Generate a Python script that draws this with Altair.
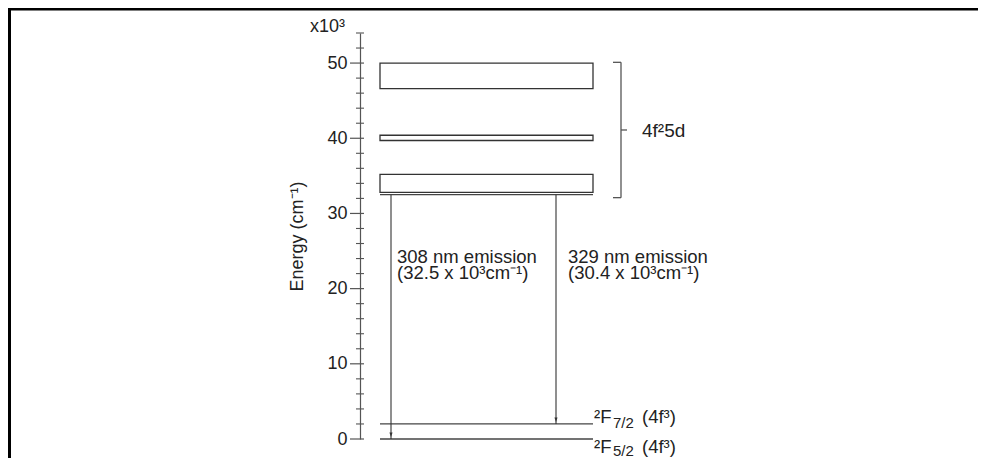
import altair as alt
import pandas as pd

# ---- data (energies in 10^3 cm^-1) ----
band_lo = [46.6, 39.7, 32.8]
band_hi = [50.0, 40.4, 35.2]
level_names = ["5d edge", "2F7/2", "2F5/2"]
level_energy = [32.5, 2.0, 0.0]
arrow_start = [32.5, 32.5]
arrow_end = [0.0, 2.0]
emission_text = ["308 nm emission\n(32.5 x 10³cm⁻¹)", "329 nm emission\n(30.4 x 10³cm⁻¹)"]
major_ticks = [0, 10, 20, 30, 40, 50]
minor_ticks = [2, 4, 6, 8, 12, 14, 16, 18, 22, 24, 26, 28, 32, 34, 36, 38,
               42, 44, 46, 48, 52, 54]
bracket_lo, bracket_hi, bracket_mid = 32.1, 50.1, 41.1

# ---- layout (plot units = pixels from the axis) ----
W, H = 618, 406
FONT = "Liberation Sans"
INK = "#222222"
LINE = "#333333"

xs = alt.Scale(domain=[0, W], nice=False, zero=False)
ys = alt.Scale(domain=[0, 54], nice=False, zero=False)
yaxis = alt.Axis(values=major_ticks, ticks=False, grid=False, domainColor="#555555",
                 domainWidth=1.2, labelFont=FONT, labelFontSize=18, labelColor=INK,
                 labelPadding=13, title="Energy (cm⁻¹)", titleFont=FONT,
                 titleFontSize=18, titleFontWeight="normal", titleColor=INK,
                 titlePadding=20)


def X(f):
    return alt.X(f, type="quantitative", scale=xs, axis=None)


def Y(f):
    return alt.Y(f, type="quantitative", scale=ys, axis=yaxis)


def txt(df, size, **kw):
    return alt.Chart(df).mark_text(
        align="left", baseline="alphabetic", font=FONT, fontSize=size, color=INK, **kw
    ).encode(x=X("x"), y=Y("e"), text="t:N")


bands = pd.DataFrame({"x": [20] * 3, "x2": [233] * 3, "e": band_lo, "e2": band_hi})
levels = pd.DataFrame({"x": [20] * 3, "x2": [233] * 3, "e": level_energy, "name": level_names})
arrows = pd.DataFrame({"x": [31, 196], "e": arrow_start, "e2": arrow_end})
heads = pd.DataFrame({"x": [31, 196], "e": arrow_end})
emis = pd.DataFrame({"x": [37, 208], "e": [23.43, 23.43], "t": emission_text})
majors = pd.DataFrame({"e": major_ticks})
minors = pd.DataFrame({"e": minor_ticks})

band_layer = alt.Chart(bands).mark_rect(fill="white", stroke=LINE, strokeWidth=1.3).encode(
    x=X("x"), x2="x2", y=Y("e"), y2="e2")
level_layer = alt.Chart(levels).mark_rule(color="#444444", strokeWidth=1.3).encode(
    x=X("x"), x2="x2", y=Y("e"))
arrow_layer = alt.Chart(arrows).mark_rule(color=LINE, strokeWidth=1.1).encode(
    x=X("x"), y=Y("e"), y2="e2")
head_layer = alt.Chart(heads).mark_point(
    shape="M-0.35,-1L0.35,-1L0,0Z", filled=True, size=80, color=LINE, opacity=1, yOffset=-2
).encode(x=X("x"), y=Y("e"))
emis_layer = txt(emis, 18.5, lineBreak="\n", lineHeight=16.5)

major_layer = alt.Chart(majors).mark_rule(color="#555555", strokeWidth=1.2).encode(
    y=Y("e"), x=alt.value(-10), x2=alt.value(4))
minor_layer = alt.Chart(minors).mark_rule(color="#555555", strokeWidth=1.1).encode(
    y=Y("e"), x=alt.value(-4), x2=alt.value(4))

# bracket
br_v = pd.DataFrame({"x": [261], "e": [bracket_lo], "e2": [bracket_hi]})
br_h = pd.DataFrame({"x": [253, 253, 261], "x2": [261, 261, 267],
                     "e": [bracket_hi, bracket_lo, bracket_mid]})
br_v_layer = alt.Chart(br_v).mark_rule(color="#555555", strokeWidth=1.3).encode(
    x=X("x"), y=Y("e"), y2="e2")
br_h_layer = alt.Chart(br_h).mark_rule(color="#555555", strokeWidth=1.3).encode(
    x=X("x"), x2="x2", y=Y("e"))
config_layer = txt(pd.DataFrame({"x": [282], "e": [40.2], "t": ["4f²5d"]}), 19)

# level labels: main, subscript, tail
lab_main = pd.DataFrame({"x": [234, 234], "e": [2.09, -1.86], "t": ["²F", "²F"]})
lab_sub = pd.DataFrame({"x": [253, 253], "e": [1.46, -2.26], "t": ["7/2", "5/2"]})
lab_tail = pd.DataFrame({"x": [282, 282], "e": [2.09, -1.86], "t": ["(4f³)", "(4f³)"]})
lab_main_layer = txt(lab_main, 18.5)
lab_sub_layer = txt(lab_sub, 15)
lab_tail_layer = txt(lab_tail, 18.5)

# multiplier above axis
mult_layer = txt(pd.DataFrame({"x": [-50], "e": [54.16], "t": ["x10³"]}), 18)

# frame (top and left edges)
frame_top = alt.Chart(pd.DataFrame({"e": [0]})).mark_rule(color="black", strokeWidth=3).encode(
    x=alt.value(-352), x2=alt.value(618), y=alt.value(-24))
frame_left = alt.Chart(pd.DataFrame({"e": [0]})).mark_rule(color="black", strokeWidth=3).encode(
    x=alt.value(-350.5), y=alt.value(-25), y2=alt.value(440))

chart = alt.layer(
    frame_top, frame_left, level_layer, band_layer, arrow_layer, head_layer,
    emis_layer, major_layer, minor_layer, br_v_layer, br_h_layer, config_layer,
    lab_main_layer, lab_sub_layer, lab_tail_layer, mult_layer
).properties(
    width=W, height=H,
    padding={"left": 352, "top": 25, "right": 2, "bottom": 19},
    autosize=alt.AutoSizeParams(type="none"),
).configure_view(stroke=None)

chart.save("out.html", embed_options={"renderer": "svg", "actions": False})
